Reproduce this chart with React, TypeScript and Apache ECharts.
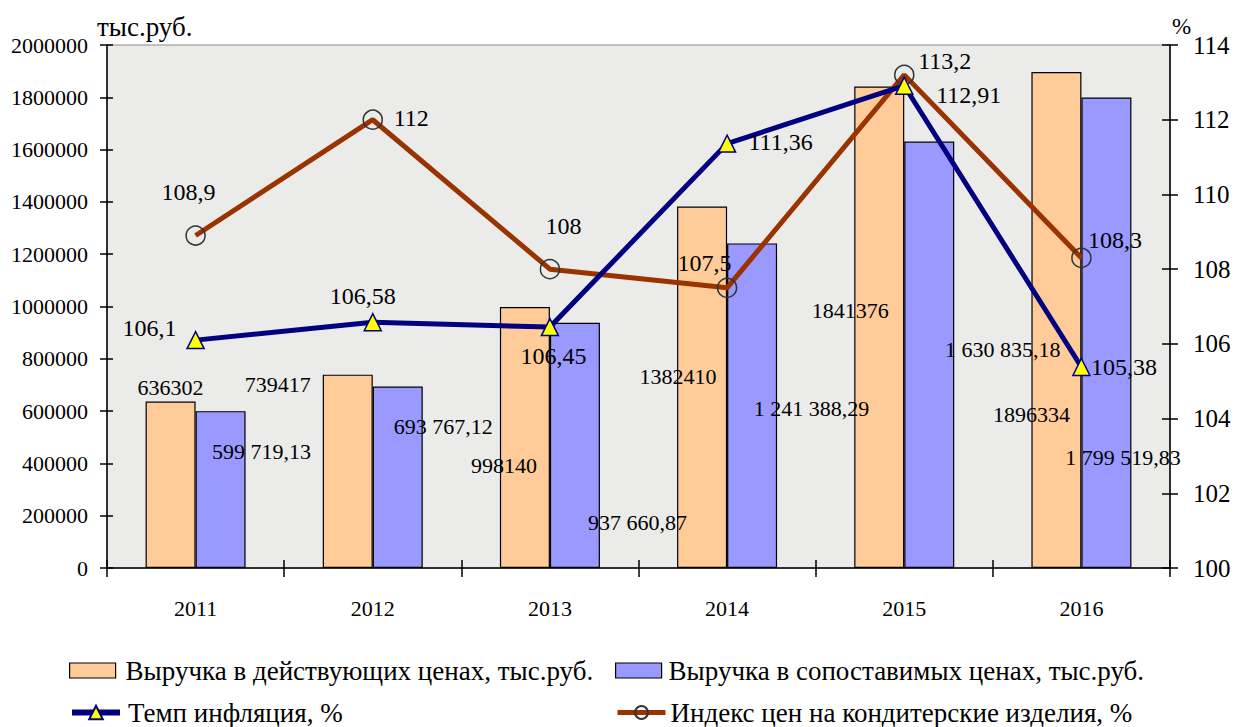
import React, { useEffect, useRef } from "react";
import * as echarts from "echarts";

const years = ["2011", "2012", "2013", "2014", "2015", "2016"];
const revenueCurrent = [636302, 739417, 998140, 1382410, 1841376, 1896334];
const revenueComparable = [599719.13, 693767.12, 937660.87, 1241388.29, 1630835.18, 1799519.83];
const inflationRate = [106.1, 106.58, 106.45, 111.36, 112.91, 105.38];
const confectioneryPriceIndex = [108.9, 112, 108, 107.5, 113.2, 108.3];

const leftTicks = { min: 0, max: 2000000, interval: 200000 };
const rightTicks = { min: 100, max: 114, interval: 2 };

const seriesNames = [
  "Выручка в действующих ценах, тыс.руб.",
  "Выручка в сопоставимых ценах, тыс.руб.",
  "Темп инфляция, %",
  "Индекс цен на кондитерские изделия, %",
];

// label layout offsets (px)
const currentLabelOffsets = [[0, -97], [-70, -86.5], [-21, 28], [-24, -10.5], [-29, -16.7], [-25, 94.5]];
const comparableLabelOffsets = [[41, -37.75], [45.5, -50.5], [62.5, 77.4], [59.5, 3], [73.5, -5.2], [16.5, 124.8]];
const inflationLabelOffsets = [[-46, -12.5], [-10, -26.6], [3.5, 28.5], [53.5, -1.4], [64.5, 9.4], [42.5, 0]];
const indexLabelOffsets = [[-7, -44], [38.5, -1.5], [13.5, -42.7], [-22.5, -25], [40.5, -13.8], [33.5, -17.6]];

const FONT = "Liberation Serif";
const FS = 22; // numbers
const FS_TEXT = 27; // Cyrillic texts

function fmtComparable(v: number): string {
  const [intPart, dec] = v.toFixed(2).split(".");
  const grouped = intPart.replace(/\B(?=(\d{3})+(?!\d))/g, " ");
  return grouped + "," + dec;
}
function fmtPct(v: number): string {
  return String(v).replace(".", ",");
}

export default function App() {
  const ref = useRef<HTMLDivElement>(null);
  useEffect(() => {
    if (!ref.current) return;
    const chart = echarts.init(ref.current, undefined, { renderer: "svg" });
    const textBase = { fontFamily: FONT, fontSize: FS, color: "#000" };
    const legendText = { fontFamily: FONT, fontSize: FS_TEXT, color: "#000" };
    const axisLineStyle = { color: "#000", width: 1.5 };

    const option: any = {
      animation: false,
      backgroundColor: "#fff",
      textStyle: { fontFamily: FONT, fontSize: FS },
      grid: {
        left: 107,
        right: 65,
        top: 45,
        bottom: 159,
        show: true,
        backgroundColor: "#ebebea",
        borderColor: "#8a8a8a",
        borderWidth: 1,
      },
      legend: [
        {
          data: [seriesNames[0]],
          left: 69,
          top: 657,
          padding: 0,
          icon: "rect",
          itemWidth: 46,
          itemHeight: 15,
          itemStyle: { borderColor: "#000", borderWidth: 1.2 },
          textStyle: { ...legendText, padding: [0, 0, 0, 5] },
        },
        {
          data: [seriesNames[1]],
          left: 615,
          top: 657,
          padding: 0,
          icon: "rect",
          itemWidth: 46,
          itemHeight: 15,
          itemStyle: { borderColor: "#000", borderWidth: 1.2 },
          textStyle: { ...legendText, padding: [0, 0, 0, 2] },
        },
        {
          data: [seriesNames[2]],
          left: 69,
          top: 699,
          padding: 0,
          itemWidth: 48,
          itemHeight: 17,
          lineStyle: { width: 6 },
          textStyle: { ...legendText, padding: [0, 0, 0, 3] },
        },
        {
          data: [seriesNames[3]],
          left: 615,
          top: 699,
          padding: 0,
          itemWidth: 48,
          itemHeight: 16,
          lineStyle: { width: 5 },
          textStyle: { ...legendText, padding: [0, 0, 0, 0] },
        },
      ],
      xAxis: [
        {
          type: "category",
          data: years,
          position: "bottom",
          axisLine: { lineStyle: axisLineStyle },
          axisTick: { show: true, length: 9, lineStyle: axisLineStyle, interval: 0 },
          axisLabel: { ...textBase, margin: 29 },
          splitLine: { show: false },
        },
        {
          type: "category",
          data: years,
          position: "bottom",
          axisLine: { show: false },
          axisTick: { show: true, inside: true, length: 8, lineStyle: axisLineStyle, interval: 0 },
          axisLabel: { show: false },
          splitLine: { show: false },
        },
      ],
      yAxis: [
        {
          type: "value",
          position: "left",
          ...leftTicks,
          axisLine: { show: true, lineStyle: axisLineStyle },
          axisTick: { show: true, length: 7, lineStyle: axisLineStyle },
          axisLabel: { ...textBase, margin: 19, formatter: (v: number) => String(v) },
          splitLine: { show: false },
        },
        {
          type: "value",
          position: "right",
          ...rightTicks,
          axisLine: { show: true, lineStyle: axisLineStyle },
          axisTick: { show: true, length: 8, lineStyle: axisLineStyle },
          axisLabel: { ...textBase, fontSize: 25, margin: 23, formatter: (v: number) => String(v) },
          splitLine: { show: false },
        },
        {
          type: "value",
          position: "left",
          ...leftTicks,
          axisLine: { show: false },
          axisTick: { show: true, inside: true, length: 6, lineStyle: axisLineStyle },
          axisLabel: { show: false },
          splitLine: { show: false },
        },
        {
          type: "value",
          position: "right",
          ...rightTicks,
          axisLine: { show: false },
          axisTick: { show: true, inside: true, length: 8, lineStyle: axisLineStyle },
          axisLabel: { show: false },
          splitLine: { show: false },
        },
      ],
      graphic: [
        {
          type: "text",
          left: 97,
          top: 13,
          style: { text: "тыс.руб.", fontFamily: FONT, fontSize: FS_TEXT, fill: "#000" },
        },
        {
          type: "text",
          left: 1172,
          top: 15,
          style: { text: "%", fontFamily: FONT, fontSize: 23, fill: "#000" },
        },
      ],
      series: [
        {
          name: seriesNames[0],
          type: "bar",
          xAxisIndex: 0,
          yAxisIndex: 0,
          barWidth: 50,
          barGap: "0%",
          itemStyle: { color: "#ffcc99", borderColor: "#000", borderWidth: 1.2 },
          label: {
            show: true,
            position: "inside",
            ...textBase,
            formatter: (p: any) => String(p.value),
          },
          data: revenueCurrent.map((v, i) => ({ value: v, label: { offset: currentLabelOffsets[i] } })),
        },
        {
          name: seriesNames[1],
          type: "bar",
          xAxisIndex: 0,
          yAxisIndex: 0,
          barWidth: 50,
          barGap: "0%",
          itemStyle: { color: "#9999ff", borderColor: "#000", borderWidth: 1.2 },
          label: {
            show: true,
            position: "inside",
            ...textBase,
            formatter: (p: any) => fmtComparable(p.value),
          },
          data: revenueComparable.map((v, i) => ({ value: v, label: { offset: comparableLabelOffsets[i] } })),
        },
        {
          name: seriesNames[2],
          type: "line",
          xAxisIndex: 0,
          yAxisIndex: 1,
          symbol: "triangle",
          symbolSize: 17,
          lineStyle: { color: "#000080", width: 5 },
          itemStyle: { color: "#ffff00", borderColor: "#000080", borderWidth: 1.5 },
          label: {
            show: true,
            position: "inside",
            ...textBase,
            fontSize: 24,
            formatter: (p: any) => fmtPct(p.value),
          },
          data: inflationRate.map((v, i) => ({ value: v, label: { offset: inflationLabelOffsets[i] } })),
          z: 4,
        },
        {
          name: seriesNames[3],
          type: "line",
          xAxisIndex: 0,
          yAxisIndex: 1,
          symbol: "circle",
          symbolSize: 19,
          lineStyle: { color: "#993300", width: 5 },
          itemStyle: { color: "rgba(0,0,0,0)", borderColor: "#333333", borderWidth: 1.5 },
          label: {
            show: true,
            position: "inside",
            ...textBase,
            fontSize: 24,
            formatter: (p: any) => fmtPct(p.value),
          },
          data: confectioneryPriceIndex.map((v, i) => ({ value: v, label: { offset: indexLabelOffsets[i] } })),
          z: 3,
        },
      ],
    };
    chart.setOption(option);
    return () => chart.dispose();
  }, []);
  return (
    <div
      ref={ref}
      style={{ position: "fixed", left: 0, top: 0, width: 1235, height: 727, background: "#fff" }}
    />
  );
}
